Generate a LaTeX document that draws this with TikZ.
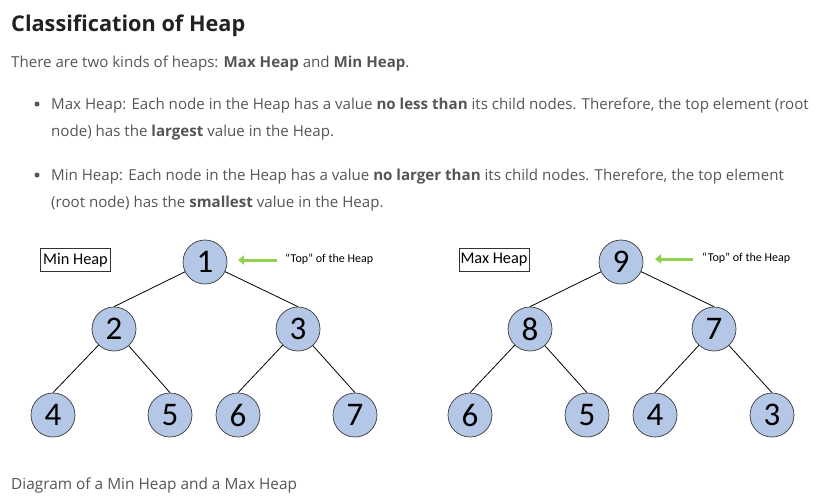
\documentclass[tikz,border=0pt]{standalone}
\usepackage{fontspec}
\setmainfont{Open Sans}
\newfontfamily\calib{Carlito}
\usetikzlibrary{arrows.meta}
\definecolor{bodytxt}{HTML}{555555}
\definecolor{titletxt}{HTML}{222222}
\definecolor{nodefill}{HTML}{B4C7E7}
\definecolor{nodeedge}{HTML}{3A3A3A}
\definecolor{arrowgreen}{HTML}{92D050}
\tikzset{
  heapnode/.style={circle, draw=nodeedge, line width=0.7pt, fill=nodefill, minimum size=44pt, inner sep=0pt, font=\calib\fontsize{33}{33}\selectfont},
  edge/.style={draw=black, line width=0.8pt},
  labelbox/.style={draw=black!80, line width=0.7pt, minimum width=70pt, minimum height=23pt, inner sep=0pt, font=\calib\fontsize{16.3}{16.3}\selectfont},
  toptxt/.style={anchor=west, inner sep=0pt, font=\calib\fontsize{12}{12}\selectfont},
  toparrow/.style={draw=arrowgreen, line width=3pt, -{Triangle[length=6pt,width=9pt]}},
  bodyline/.style={anchor=base west, inner sep=0pt, text=bodytxt, font=\fontsize{15.1}{15.1}\selectfont},
  bulletdot/.style={circle, fill=bodytxt, inner sep=0pt, minimum size=5pt}
}
\begin{document}
\begin{tikzpicture}[x=1pt,y=-1pt]
\useasboundingbox (0,0) rectangle (821,496);
% text block
\node[anchor=base west, inner sep=0pt, text=titletxt, font=\fontsize{21.7}{21.7}\selectfont\bfseries] (title) at (11,31) {Classification of Heap};
\node[bodyline] (intro) at (11,67) {There are two kinds of heaps: \textbf{Max Heap} and \textbf{Min Heap}.};
\node[bulletdot] (b1) at (37,104) {};
\node[bodyline] (l1) at (51,109) {Max Heap: Each node in the Heap has a value \textbf{no less than} its child nodes. Therefore, the top element (root};
\node[bodyline] (l2) at (51,136) {node) has the \textbf{largest} value in the Heap.};
\node[bulletdot] (b2) at (37,175) {};
\node[bodyline] (l3) at (51,180) {Min Heap: Each node in the Heap has a value \textbf{no larger than} its child nodes. Therefore, the top element};
\node[bodyline] (l4) at (51,207) {(root node) has the \textbf{smallest} value in the Heap.};
\node[bodyline, font=\fontsize{15.4}{15.4}\selectfont] (cap) at (11,489) {Diagram of a Min Heap and a Max Heap};
% Min heap
\node[labelbox] (minlbl) at (75.5,260) {Min Heap};
\node[heapnode] (a1) at (205,262) {1};
\node[heapnode] (a2) at (114,329) {2};
\node[heapnode] (a3) at (298,329) {3};
\node[heapnode] (a4) at (53,415) {4};
\node[heapnode] (a5) at (170,415) {5};
\node[heapnode] (a6) at (238,415) {6};
\node[heapnode] (a7) at (355,415) {7};
\draw[edge] (a1) -- (a2.north);
\draw[edge] (a1) -- (a3.north);
\draw[edge] (a2) -- (a4.north);
\draw[edge] (a2) -- (a5.north);
\draw[edge] (a3) -- (a6.north);
\draw[edge] (a3) -- (a7.north);
\coordinate (ta) at (277,260);
\coordinate (tah) at (238,260);
\draw[toparrow] (ta) -- (tah);
\node[toptxt] (tatxt) at (285,259) {“Top” of the Heap};
% Max heap
\node[labelbox] (maxlbl) at (494,259.5) {Max Heap};
\node[heapnode] (m9) at (621,262) {9};
\node[heapnode] (m8) at (530,329) {8};
\node[heapnode] (m7) at (714,329) {7};
\node[heapnode] (m6) at (470,415) {6};
\node[heapnode] (m5) at (587,415) {5};
\node[heapnode] (m4) at (655,415) {4};
\node[heapnode] (m3) at (772,415) {3};
\draw[edge] (m9) -- (m8.north);
\draw[edge] (m9) -- (m7.north);
\draw[edge] (m8) -- (m6.north);
\draw[edge] (m8) -- (m5.north);
\draw[edge] (m7) -- (m4.north);
\draw[edge] (m7) -- (m3.north);
\coordinate (tm) at (693,259);
\coordinate (tmh) at (655,259);
\draw[toparrow] (tm) -- (tmh);
\node[toptxt] (tmtxt) at (702,258) {“Top” of the Heap};
\end{tikzpicture}
\end{document}
